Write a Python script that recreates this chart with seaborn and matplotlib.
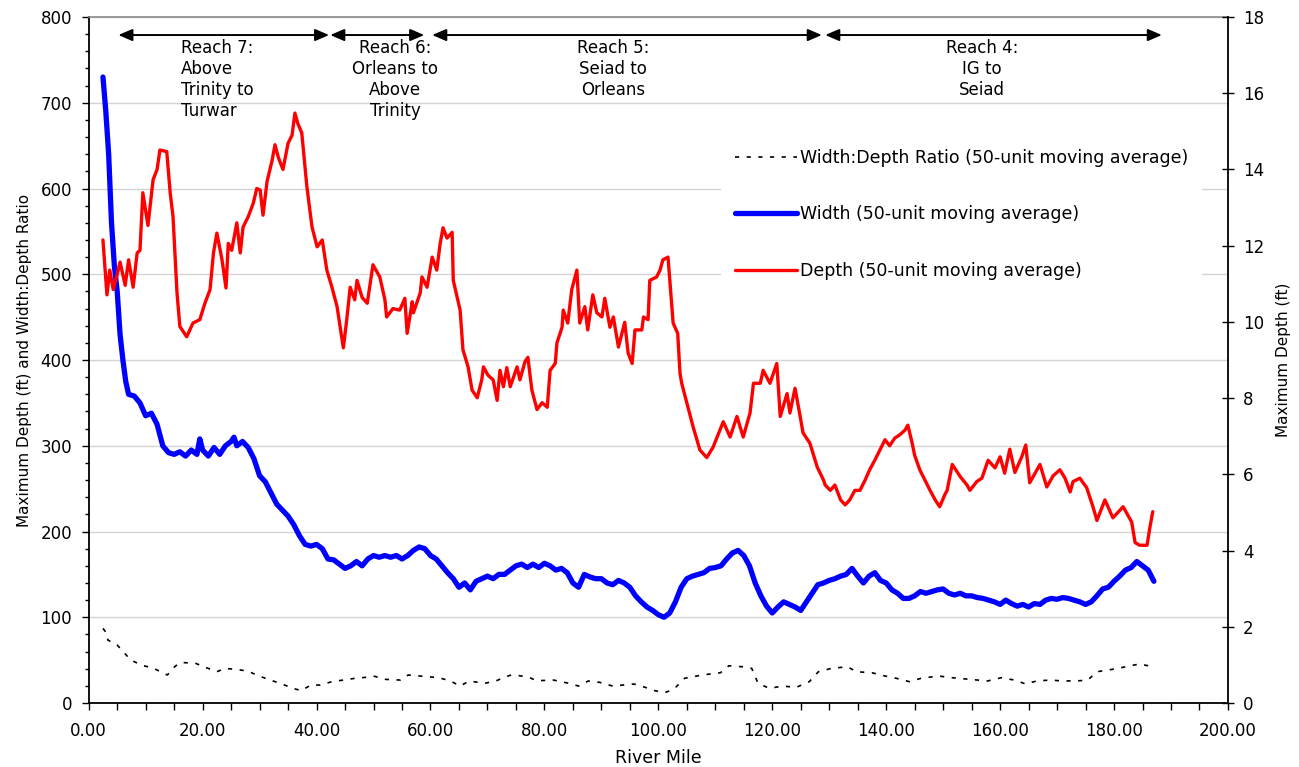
import matplotlib
matplotlib.use("Agg")
import matplotlib.pyplot as plt
from matplotlib.ticker import MultipleLocator
import seaborn as sns

# ---------------- data ----------------
depth_mile = [2.5, 3.2, 3.7, 4.3, 5.0, 5.5, 6.4, 7.0, 7.8, 8.5, 9.0, 9.5, 10.4, 11.3, 12.0,
              12.5, 13.7, 14.3, 14.8, 15.5, 16.0, 17.2, 18.3, 19.5, 20.4, 21.3, 21.9, 22.5,
              23.4, 24.1, 24.5, 25.1, 26.0, 26.6, 27.1, 28.0, 28.9, 29.5, 30.1, 30.6, 31.3,
              32.2, 32.7, 33.3, 34.1, 35.0, 35.7, 36.2, 36.7, 37.4, 38.3, 39.2, 40.1, 41.0,
              41.8, 42.7, 43.6, 44.5, 44.7, 45.3, 45.9, 46.7, 47.1, 48.0, 48.9, 49.9, 51.1,
              52.0, 52.3, 53.4, 54.6, 55.5, 55.9, 56.8, 57.0, 58.2, 58.5, 59.4, 60.3, 61.1,
              61.7, 62.2, 62.9, 63.8, 64.0, 65.2, 65.7, 66.6, 67.3, 68.2, 69.0, 69.3, 70.1,
              71.0, 71.7, 72.2, 72.8, 73.4, 74.0, 75.2, 75.7, 76.6, 77.1, 77.8, 78.7, 79.6,
              80.5, 81.0, 81.9, 82.2, 83.1, 83.3, 84.1, 84.8, 85.7, 86.2, 87.1, 87.6, 88.5,
              89.2, 90.1, 90.6, 91.5, 92.1, 93.0, 94.1, 94.7, 95.4, 95.9, 97.1, 97.4, 98.2,
              98.5, 99.7, 100.3, 100.8, 101.7, 102.6, 103.4, 103.8, 104.1, 105.0, 106.1,
              107.3, 108.5, 109.6, 111.4, 112.6, 113.8, 114.9, 116.1, 116.7, 117.9, 118.4,
              119.6, 120.8, 121.4, 122.6, 123.1, 124.0, 124.9, 125.4, 126.6, 127.9, 129.0,
              129.3, 130.2, 131.0, 132.0, 132.8, 133.6, 134.5, 135.4, 136.3, 137.1, 138.0,
              138.9, 139.8, 140.6, 141.5, 142.4, 143.3, 143.8, 144.5, 145.0, 145.9, 146.8,
              147.7, 148.6, 149.4, 150.3, 150.7, 151.6, 153.0, 154.2, 154.7, 155.9, 156.8,
              157.9, 159.1, 160.0, 160.8, 161.7, 162.6, 163.8, 164.5, 165.2, 167.0, 168.2,
              169.3, 170.5, 171.4, 172.3, 172.8, 174.0, 175.2, 176.3, 177.0, 178.4, 179.8,
              181.6, 183.1, 183.7, 184.5, 185.8, 186.3, 186.8]
depth_ft = [12.15, 10.71, 11.36, 10.85, 11.25, 11.57, 10.96, 11.63, 10.91, 11.81, 11.88, 13.39,
            12.53, 13.73, 14.0, 14.51, 14.47, 13.39, 12.76, 10.76, 9.88, 9.61, 9.97, 10.06,
            10.49, 10.85, 11.81, 12.33, 11.63, 10.89, 12.06, 11.88, 12.6, 11.81, 12.49, 12.76,
            13.12, 13.5, 13.46, 12.8, 13.68, 14.24, 14.65, 14.31, 14.0, 14.69, 14.9, 15.48,
            15.21, 14.96, 13.55, 12.49, 11.97, 12.15, 11.36, 10.91, 10.4, 9.52, 9.32, 10.06,
            10.91, 10.58, 11.09, 10.64, 10.49, 11.5, 11.18, 10.58, 10.13, 10.35, 10.31, 10.62,
            9.7, 10.53, 10.24, 10.76, 11.18, 10.91, 11.7, 11.36, 12.06, 12.47, 12.2, 12.35,
            11.09, 10.31, 9.27, 8.82, 8.21, 8.01, 8.48, 8.82, 8.6, 8.48, 7.94, 8.73, 8.3, 8.8,
            8.3, 8.82, 8.48, 8.96, 9.07, 8.21, 7.7, 7.88, 7.76, 8.73, 8.91, 9.45, 9.86, 10.31,
            9.97, 10.85, 11.36, 9.97, 10.4, 9.79, 10.71, 10.24, 10.13, 10.62, 9.86, 10.13,
            9.34, 9.99, 9.18, 8.91, 9.79, 9.79, 10.13, 10.06, 11.09, 11.18, 11.36, 11.63, 11.7,
            9.97, 9.7, 8.66, 8.39, 7.88, 7.25, 6.64, 6.44, 6.71, 7.38, 6.98, 7.52, 6.98, 7.61,
            8.39, 8.39, 8.73, 8.39, 8.91, 7.52, 8.12, 7.61, 8.26, 7.52, 7.09, 6.82, 6.19, 5.85,
            5.72, 5.58, 5.72, 5.33, 5.2, 5.33, 5.58, 5.58, 5.85, 6.12, 6.37, 6.64, 6.91, 6.75,
            6.95, 7.04, 7.16, 7.29, 6.86, 6.5, 6.12, 5.85, 5.58, 5.33, 5.15, 5.47, 5.58, 6.26,
            5.94, 5.72, 5.58, 5.81, 5.9, 6.37, 6.17, 6.46, 6.03, 6.66, 6.05, 6.46, 6.77, 5.78,
            6.26, 5.67, 5.96, 6.12, 5.9, 5.54, 5.81, 5.9, 5.65, 5.15, 4.79, 5.33, 4.86, 5.15,
            4.75, 4.21, 4.14, 4.14, 4.61, 5.02]

width_mile = [2.5, 3.0, 3.5, 4.0, 4.5, 5.0, 5.5, 6.0, 6.5, 7.0, 8, 9, 10, 11, 12, 13, 14, 15,
              16, 17, 18, 19, 19.5, 20, 21, 22, 23, 24, 25, 25.5, 26, 27, 28, 29, 30, 31, 32,
              33, 34, 35, 36, 37, 38, 39, 40, 41, 42, 43, 44, 45, 46, 47, 48, 49, 50, 51, 52,
              53, 54, 55, 56, 57, 58, 59, 60, 61, 62, 63, 64, 65, 66, 67, 68, 69, 70, 71, 72,
              73, 74, 75, 76, 77, 78, 79, 80, 81, 82, 83, 84, 85, 86, 87, 88, 89, 90, 91, 92,
              93, 94, 95, 96, 97, 98, 99, 100, 101, 102, 103, 104, 105, 106, 107, 108, 109,
              110, 111, 112, 113, 114, 115, 116, 117, 118, 119, 120, 121, 122, 123, 124, 125,
              126, 127, 128, 129, 130, 131, 132, 133, 134, 135, 136, 137, 138, 139, 140, 141,
              142, 143, 144, 145, 146, 147, 148, 149, 150, 151, 152, 153, 154, 155, 156, 157,
              158, 159, 160, 161, 162, 163, 164, 165, 166, 167, 168, 169, 170, 171, 172, 173,
              174, 175, 176, 177, 178, 179, 180, 181, 182, 183, 184, 185, 186, 187]
width_ft = [730, 690, 640, 560, 510, 480, 430, 400, 375, 360, 358, 350, 335, 338, 325, 300,
            292, 290, 293, 288, 295, 290, 308, 295, 288, 298, 290, 300, 305, 310, 300, 305,
            298, 285, 265, 258, 245, 232, 225, 218, 208, 195, 185, 183, 185, 180, 168, 167,
            162, 157, 160, 165, 160, 168, 172, 170, 172, 170, 172, 168, 172, 178, 182, 180,
            172, 168, 160, 152, 145, 135, 140, 132, 142, 145, 148, 145, 150, 150, 155, 160,
            162, 158, 162, 158, 163, 160, 155, 157, 152, 140, 135, 150, 147, 145, 145, 140,
            138, 143, 140, 135, 125, 118, 112, 108, 103, 100, 105, 118, 135, 145, 148, 150,
            152, 157, 158, 160, 168, 175, 178, 172, 160, 140, 125, 113, 105, 112, 118, 115,
            112, 108, 118, 128, 138, 140, 143, 145, 148, 150, 157, 148, 140, 148, 152, 143,
            140, 132, 128, 122, 122, 125, 130, 128, 130, 132, 133, 128, 126, 128, 125, 125,
            123, 122, 120, 118, 115, 120, 116, 113, 115, 112, 116, 115, 120, 122, 121, 123,
            122, 120, 118, 115, 118, 125, 133, 135, 142, 148, 155, 158, 165, 160, 155, 142]

ratio_mile = [2.5, 3.2, 3.35, 5.0, 7.4, 9.4, 11.4, 13.8, 15.1, 16.1, 18.8, 20.2, 22.5, 23.9,
              25.9, 27.9, 29.9, 31.9, 33.9, 35.9, 37.3, 39.0, 40.6, 42.7, 44.7, 46.7, 48.7,
              50.0, 52.1, 54.7, 56.1, 58.1, 61.5, 63.5, 65.2, 66.8, 69.5, 71.5, 72.9, 74.2,
              75.6, 77.3, 78.6, 81.6, 84.3, 86.0, 87.7, 89.7, 92.0, 95.7, 97.7, 99.4, 101.1,
              102.7, 104.6, 107.7, 110.9, 112.4, 114.8, 116.4, 117.5, 119.5, 121.8, 124.2,
              126.5, 128.1, 130.4, 133.2, 134.8, 137.5, 139.8, 141.8, 144.1, 146.1, 149.2,
              151.6, 154.7, 157.8, 160.2, 162.5, 164.5, 166.4, 168.8, 171.1, 173.9, 175.4,
              177.0, 179.7, 182.1, 184.4, 186.0, 186.8]
ratio_val = [87, 81, 73.5, 67.6, 50, 44, 40.4, 32.7, 42.4, 47.4, 46.2, 42.4, 36.5, 40.4, 39.2,
             37.3, 31.5, 26.8, 22.2, 17.1, 14.4, 21, 21, 24.9, 26.8, 28.8, 30, 31.5, 27.6,
             26.8, 32.7, 31.5, 29.5, 25.7, 19.8, 25.7, 23, 25.7, 30, 32.7, 31.9, 30, 26, 26.8,
             23, 19.8, 25.7, 24.1, 19.8, 22.2, 18.3, 14.4, 12, 16, 28.8, 32.7, 35.3, 43.5,
             42.3, 40.4, 23, 17.1, 19.8, 18.3, 24.9, 36.5, 40.4, 42.3, 36.5, 35.3, 31.5, 28.8,
             24.9, 28.8, 31.5, 29.5, 27.6, 25.7, 29.5, 26.8, 22.2, 25.7, 26.8, 25.7, 26, 26.8,
             36.5, 39.3, 42.3, 45.5, 43.5, 37.3]

series_labels = ["Width:Depth Ratio (50-unit moving average)",
                 "Width (50-unit moving average)",
                 "Depth (50-unit moving average)"]

reach_labels = ["Reach 7:\nAbove\nTrinity to\nTurwar",
                "Reach 6:\nOrleans to\nAbove\nTrinity",
                "Reach 5:\nSeiad to\nOrleans",
                "Reach 4:\nIG to\nSeiad"]
reach_start = [5.2, 42.4, 60.3, 129.3]
reach_end = [42.2, 58.9, 128.7, 188.4]

x_ticks = [0, 20, 40, 60, 80, 100, 120, 140, 160, 180, 200]
x_tick_labels = ["0.00", "20.00", "40.00", "60.00", "80.00", "100.00", "120.00",
                 "140.00", "160.00", "180.00", "200.00"]
left_ticks = [0, 100, 200, 300, 400, 500, 600, 700, 800]
right_ticks = [0, 2, 4, 6, 8, 10, 12, 14, 16, 18]

# ---------------- styling ----------------
sns.set_style("ticks")
plt.rcParams["font.family"] = ["DejaVu Sans"]
plt.rcParams["font.size"] = 12
for key in ("text.color", "axes.labelcolor", "xtick.color", "ytick.color"):
    plt.rcParams[key] = "black"

fig = plt.figure(figsize=(12.99, 7.67), dpi=100)
ax = fig.add_axes([0.0683, 0.0834, 0.8770, 0.8944])
ax2 = ax.twinx()

sns.lineplot(x=ratio_mile, y=ratio_val, ax=ax, color="black", linewidth=1.2,
             linestyle=(0, (2.5, 4.5)), sort=False, estimator=None, legend=False)
sns.lineplot(x=width_mile, y=width_ft, ax=ax, color="#0000FF", linewidth=3.8,
             sort=False, estimator=None, legend=False, solid_capstyle="round")
sns.lineplot(x=depth_mile, y=depth_ft, ax=ax2, color="#FF0000", linewidth=2.4,
             sort=False, estimator=None, legend=False)

ax.set_xlim(0, 200)
ax.set_ylim(0, 800)
ax2.set_ylim(0, 18)

ax.set_xticks(x_ticks)
ax.set_xticklabels(x_tick_labels)
ax.xaxis.set_minor_locator(MultipleLocator(5))
ax.set_yticks(left_ticks)
ax.set_yticklabels([str(v) for v in left_ticks])
ax.yaxis.set_minor_locator(MultipleLocator(20))
ax2.set_yticks(right_ticks)
ax2.set_yticklabels([str(v) for v in right_ticks])

ax.yaxis.grid(True, which="major", color="#d4d4d4", linewidth=1.0)
ax.set_axisbelow(True)

ax.tick_params(axis="x", which="major", direction="out", length=5, width=1,
               pad=9, labelsize=12, colors="black")
ax.tick_params(axis="x", which="minor", direction="out", length=5, width=1,
               bottom=True, colors="black")
ax.tick_params(axis="y", which="major", direction="out", length=5, width=1,
               pad=7, labelsize=12, colors="black")
ax.tick_params(axis="y", which="minor", direction="out", length=3, width=1,
               left=True, colors="black")
ax2.tick_params(axis="y", which="major", direction="inout", length=8, width=1,
                pad=7, labelsize=12, colors="black")

ax.spines["top"].set_visible(True)
ax.spines["top"].set_color("#8c8c8c")
ax.spines["top"].set_linewidth(1.2)
ax2.spines["top"].set_visible(False)
ax.spines["right"].set_visible(False)
ax2.spines["left"].set_visible(False)
ax2.spines["bottom"].set_visible(False)
for s in ("left", "bottom"):
    ax.spines[s].set_color("black")
    ax.spines[s].set_linewidth(1.3)
ax2.spines["right"].set_color("black")
ax2.spines["right"].set_linewidth(1.3)

ax.set_xlabel("River Mile", fontsize=12.5, labelpad=6)
ax.set_ylabel("Maximum Depth (ft) and Width:Depth Ratio", fontsize=11, labelpad=6)
ax2.set_ylabel("Maximum Depth (ft)", fontsize=11, labelpad=8)

# reach arrows and labels
arrow_y = 779
text_y = 774
for s, e in zip(reach_start, reach_end):
    ax.annotate("", xy=(e, arrow_y), xytext=(s, arrow_y),
                arrowprops=dict(arrowstyle="<|-|>,head_length=0.7,head_width=0.3",
                                color="black", lw=1.4, shrinkA=0, shrinkB=0))
text_x = [16.2, 53.8, 92.0, 156.8]
text_ha = ["left", "center", "center", "center"]
for lab, tx, ha in zip(reach_labels, text_x, text_ha):
    ax.text(tx, text_y, lab, ha=ha, va="top", multialignment=ha, fontsize=12,
            linespacing=1.2)

# legend
handles = [ax.lines[0], ax.lines[1], ax2.lines[0]]
leg = ax2.legend(handles, series_labels, loc="upper left",
                 bbox_to_anchor=(721 / 1299, 1 - 135 / 767), bbox_transform=fig.transFigure,
                 frameon=True, fontsize=12.5, handlelength=3.57, handletextpad=0.17,
                 labelspacing=2.22, borderpad=0.8, borderaxespad=0)
leg.get_frame().set_facecolor("white")
leg.get_frame().set_edgecolor("none")
leg.get_frame().set_alpha(1)

fig.savefig("out.png", dpi=100)
